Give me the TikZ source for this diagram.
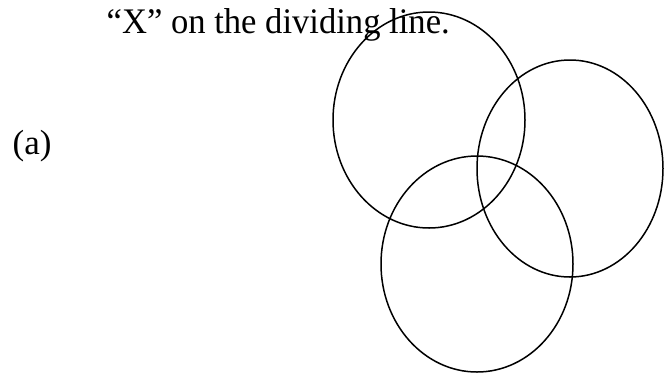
\documentclass[tikz,border=0pt]{standalone}
\usepackage{fontspec}
\setmainfont{Liberation Serif}
\begin{document}
\begin{tikzpicture}[x=1pt,y=-1pt,
  ring/.style={draw=black,line width=1.5pt},
  label/.style={inner sep=0pt,anchor=base west}]
\useasboundingbox (0,0) rectangle (664,373);
\node[label,font=\fontsize{34.6}{40}\selectfont,transform shape,yscale=1.04] (caption) at (106.5,33) {“X” on the dividing line.};
\node[label,font=\fontsize{35}{40}\selectfont] (parta) at (12.5,154) {(a)};
\draw[ring] (429,120) ellipse [x radius=96,y radius=108];
\draw[ring] (570,168.5) ellipse [x radius=93,y radius=108.5];
\draw[ring] (477,264) ellipse [x radius=96,y radius=108];
\end{tikzpicture}
\end{document}
